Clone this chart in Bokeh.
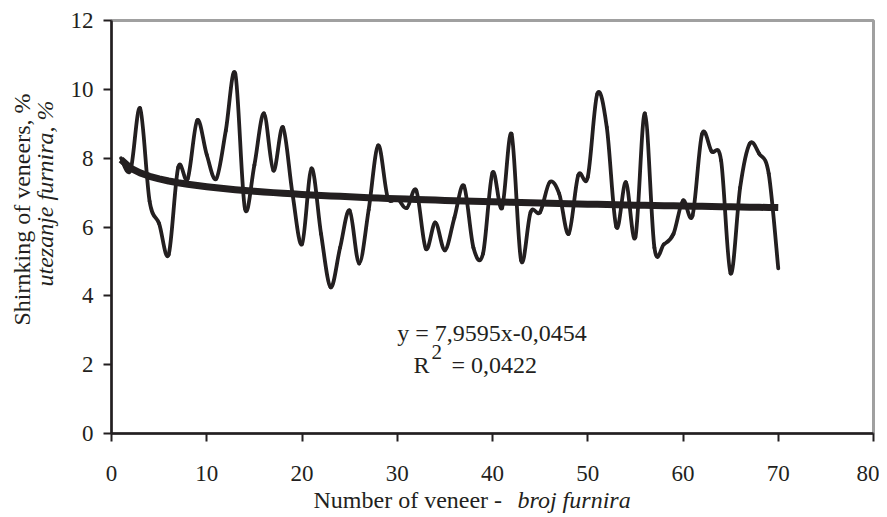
import numpy as np
from bokeh.plotting import figure
from bokeh.models import Range1d, Label, FixedTicker, Title
from bokeh.embed import file_html
from bokeh.resources import INLINE

# ---- data ----
veneer_no = list(range(1, 71))
shrinkage = [8.0, 7.65, 9.45, 6.75, 6.1, 5.2, 7.73, 7.4, 9.1, 8.1,
             7.4, 8.8, 10.45, 6.55, 7.8, 9.3, 7.64, 8.9, 6.97, 5.5,
             7.7, 5.8, 4.25, 5.4, 6.48, 4.94, 6.5, 8.37, 6.86, 6.83,
             6.55, 7.06, 5.37, 6.13, 5.32, 6.27, 7.2, 5.4, 5.22, 7.58,
             6.55, 8.7, 5.03, 6.43, 6.43, 7.3, 6.97, 5.8, 7.5, 7.45,
             9.87, 8.9, 6.0, 7.3, 5.7, 9.3, 5.4, 5.5, 5.8, 6.77,
             6.33, 8.7, 8.2, 7.93, 4.65, 7.15, 8.42, 8.13, 7.55, 4.8]
trend_a = 7.9595
trend_b = -0.0454
x_ticks = [0, 10, 20, 30, 40, 50, 60, 70, 80]
y_ticks = [0, 2, 4, 6, 8, 10, 12]

FONT = "Liberation Serif"
INK = "#231f20"

p = figure(width=879, height=517, output_backend="svg", toolbar_location=None,
           x_range=Range1d(0, 80), y_range=Range1d(0, 12),
           min_border_left=111, min_border_right=6, min_border_top=20, min_border_bottom=84)
p.grid.visible = False
p.background_fill_color = "white"
p.border_fill_color = "white"
p.outline_line_color = "#a0a0a0"
p.outline_line_width = 3

for ax, ticks in ((p.xaxis, x_ticks), (p.yaxis, y_ticks)):
    ax.ticker = FixedTicker(ticks=ticks)
    ax.axis_line_color = INK
    ax.axis_line_width = 2.5
    ax.major_tick_line_color = INK
    ax.major_tick_line_width = 2
    ax.major_tick_out = 8
    ax.major_tick_in = 0
    ax.minor_tick_line_color = None
    ax.major_label_text_font = FONT
    ax.major_label_text_font_size = "23px"
    ax.major_label_text_color = INK
p.xaxis.major_label_standoff = 24
p.yaxis.major_label_standoff = 10

# smoothed data line (Bezier segments through the data points)
x = np.array(veneer_no, dtype=float)
y = np.array(shrinkage, dtype=float)
xp = np.concatenate([[x[0]], x, [x[-1]]])
yp = np.concatenate([[y[0]], y, [y[-1]]])
n = len(x)
x0, y0 = x[:-1], y[:-1]
x1, y1 = x[1:], y[1:]
cx0 = x0 + (xp[2:n + 1] - xp[0:n - 1]) / 6.0
cy0 = y0 + (yp[2:n + 1] - yp[0:n - 1]) / 6.0
cx1 = x1 - (xp[3:n + 2] - xp[1:n]) / 6.0
cy1 = y1 - (yp[3:n + 2] - yp[1:n]) / 6.0
p.bezier(x0=x0, y0=y0, x1=x1, y1=y1, cx0=cx0, cy0=cy0, cx1=cx1, cy1=cy1,
         line_color=INK, line_width=3.8, line_cap="round")

# power trendline
trend = trend_a * x ** trend_b
p.line(x, trend, line_color=INK, line_width=7, line_join="round")

# equation text
p.add_layout(Label(x=30.0, y=2.93, text="y = 7,9595x-0,0454", text_font=FONT,
                   text_font_size="24px", text_color=INK, text_baseline="middle"))
p.add_layout(Label(x=31.7, y=1.98, text="R", text_font=FONT,
                   text_font_size="24px", text_color=INK, text_baseline="middle"))
p.add_layout(Label(x=33.6, y=2.36, text="2", text_font=FONT,
                   text_font_size="21px", text_color=INK, text_baseline="middle"))
p.add_layout(Label(x=35.7, y=1.98, text="= 0,0422", text_font=FONT,
                   text_font_size="24px", text_color=INK, text_baseline="middle"))

# axis titles, placed in the side panels
p.add_layout(Label(x=202, y=10, x_units="screen", y_units="screen",
                   text="Number of veneer -", text_font=FONT,
                   text_font_size="24px", text_color=INK, text_baseline="middle"), "below")
p.add_layout(Label(x=3, y=240, x_units="screen", y_units="screen",
                   text="utezanje furnira, %", text_font=FONT, text_font_style="italic",
                   text_font_size="24px", text_color=INK, text_baseline="middle",
                   text_align="center", angle=np.pi / 2), "left")
p.add_layout(Label(x=6, y=224, x_units="screen", y_units="screen",
                   text="Shirnking of veneers, %", text_font=FONT,
                   text_font_size="24px", text_color=INK, text_baseline="middle",
                   text_align="center", angle=np.pi / 2), "left")

# italic part of the x title
p.add_layout(Title(text="broj furnira", align="left", offset=406, standoff=-46,
                   vertical_align="top", text_font=FONT, text_font_style="italic",
                   text_font_size="24px", text_color=INK), "below")

open("out.html", "w").write(file_html(p, INLINE))
